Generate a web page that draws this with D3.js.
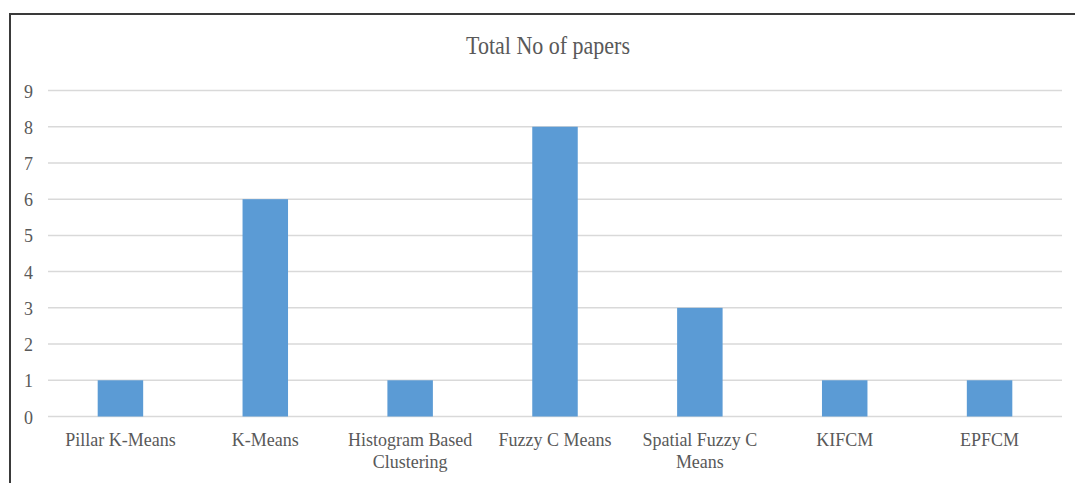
<!DOCTYPE html>
<html>
<head>
<meta charset="utf-8">
<script src="https://cdn.jsdelivr.net/npm/d3@7"></script>
<style>
  html, body { margin: 0; padding: 0; background: #fff; }
  svg { display: block; }
  text { font-family: "Liberation Serif", "Times New Roman", serif; fill: #595959; }
</style>
</head>
<body>
<svg id="chart" width="1075" height="483"></svg>
<script>
// Papers per clustering method
const categories = ["Pillar K-Means", "K-Means", "Histogram Based Clustering", "Fuzzy C Means",
                    "Spatial Fuzzy C Means", "KIFCM", "EPFCM"];
const paperCounts = [1, 6, 1, 8, 3, 1, 1];
const yTicks = [0, 1, 2, 3, 4, 5, 6, 7, 8, 9];
const chartTitle = "Total No of papers";

const svg = d3.select("#chart");
const W = 1075, H = 483;
const plot = { left: 48, right: 1062, top: 90.5, bottom: 416.5 };
const stretch = 1.1;   // slightly tall lettering
const FONT = "Liberation Serif, Times New Roman, serif";

// Outer frame: left and top edges
svg.append("path")
  .attr("d", `M10,${H} L10,14 L${W},14`)
  .attr("fill", "none")
  .attr("stroke", "#3a3a3a")
  .attr("stroke-width", 2);

const x = d3.scaleBand()
  .domain(categories)
  .range([plot.left, plot.right])
  .paddingInner(0.686)
  .paddingOuter(0.343);

const y = d3.scaleLinear()
  .domain([0, 9])
  .range([plot.bottom, plot.top]);

// Horizontal gridlines
svg.append("g")
  .selectAll("line")
  .data(yTicks)
  .join("line")
  .attr("x1", plot.left)
  .attr("x2", plot.right)
  .attr("y1", d => y(d))
  .attr("y2", d => y(d))
  .attr("stroke", "#d9d9d9")
  .attr("stroke-width", 1.5);

// Y axis labels
const yAxis = d3.axisLeft(y).tickValues(yTicks).tickSize(0).tickPadding(0).tickFormat(d3.format("d"));
const yg = svg.append("g").attr("transform", `translate(${plot.left - 15},0)`).call(yAxis);
yg.select(".domain").remove();
yg.selectAll("text")
  .attr("font-family", FONT)
  .attr("font-size", 18)
  .attr("fill", "#595959")
  .attr("dy", null)
  .attr("y", 6.5 / stretch)
  .attr("transform", `scale(1,${stretch})`);

// Bars
svg.append("g")
  .selectAll("rect")
  .data(categories.map((c, i) => ({ c, v: paperCounts[i] })))
  .join("rect")
  .attr("x", d => x(d.c))
  .attr("width", x.bandwidth())
  .attr("y", d => y(d.v))
  .attr("height", d => y(0) - y(d.v))
  .attr("fill", "#5b9bd5");

// Category labels, wrapped to the band step
const xAxis = d3.axisBottom(x).tickSize(0).tickPadding(0);
const xg = svg.append("g").attr("transform", `translate(0,${plot.bottom})`).call(xAxis);
xg.select(".domain").remove();
const maxW = x.step() - 8;
xg.selectAll(".tick text").each(function(label) {
  const t = d3.select(this);
  t.text(null)
    .attr("font-family", FONT)
    .attr("font-size", 18)
    .attr("fill", "#595959")
    .attr("dy", null)
    .attr("y", null)
    .attr("transform", `scale(1,${stretch})`);
  const words = label.split(" ");
  let lines = [], cur = [];
  const probe = t.append("tspan");
  words.forEach(w => {
    const test = cur.concat(w).join(" ");
    probe.text(test);
    if (probe.node().getComputedTextLength() > maxW && cur.length) {
      lines.push(cur.join(" "));
      cur = [w];
    } else {
      cur.push(w);
    }
  });
  lines.push(cur.join(" "));
  probe.remove();
  lines.forEach((ln, i) => {
    t.append("tspan").attr("x", 0).attr("y", (30 + i * 21.5) / stretch).text(ln);
  });
});

// Title
svg.append("text")
  .attr("x", 548)
  .attr("y", 54 / stretch)
  .attr("text-anchor", "middle")
  .attr("font-size", 22)
  .attr("transform", `scale(1,${stretch})`)
  .text(chartTitle);
</script>
</body>
</html>
